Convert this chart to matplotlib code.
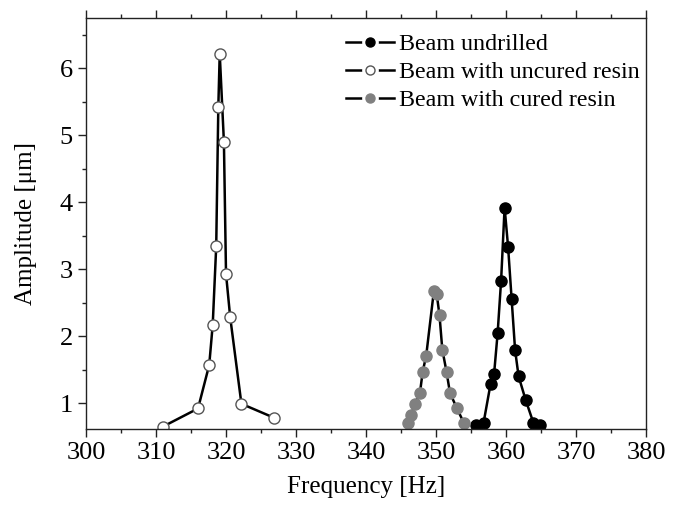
import numpy as np
import matplotlib
matplotlib.use("Agg")
import matplotlib.pyplot as plt
from matplotlib.ticker import MultipleLocator
from matplotlib.lines import Line2D
from matplotlib.legend_handler import HandlerTuple

# data
freq_undrilled = [355.7, 356.8, 357.8, 358.3, 358.8, 359.3, 359.8, 360.3, 360.8, 361.3, 361.8, 362.8, 363.9, 364.9]
amp_undrilled = [0.67, 0.71, 1.29, 1.44, 2.04, 2.83, 3.92, 3.33, 2.56, 1.79, 1.40, 1.05, 0.71, 0.67]

freq_uncured = [311.0, 316.0, 317.6, 318.1, 318.6, 318.9, 319.1, 319.7, 320.0, 320.6, 322.2, 326.9]
amp_uncured = [0.65, 0.92, 1.57, 2.17, 3.34, 5.42, 6.22, 4.90, 2.93, 2.28, 0.99, 0.78]

freq_cured = [346.0, 346.4, 347.0, 347.7, 348.1, 348.6, 349.7, 350.1, 350.5, 350.9, 351.5, 352.0, 353.0, 354.0]
amp_cured = [0.70, 0.82, 0.98, 1.15, 1.47, 1.71, 2.68, 2.63, 2.31, 1.80, 1.47, 1.15, 0.92, 0.70]

labels = ["Beam undrilled", "Beam with uncured resin", "Beam with cured resin"]

plt.rcParams['font.family'] = ['Liberation Serif', 'DejaVu Serif']

fig = plt.figure(figsize=(6.8, 5.08), dpi=100)
ax = fig.add_axes([0.1265, 0.155, 0.8235, 0.8095])

styles = [
    dict(mfc='black', mec='black', mew=1.0),
    dict(mfc='white', mec='#555555', mew=1.0),
    dict(mfc='#808080', mec='#808080', mew=1.0),
]

ax.plot(freq_undrilled, amp_undrilled, '-o', color='black', lw=1.8, ms=8, **styles[0])
ax.plot(freq_uncured, amp_uncured, '-o', color='black', lw=1.8, ms=8, **styles[1])
ax.plot(freq_cured, amp_cured, '-o', color='black', lw=1.8, ms=8, **styles[2])

ax.set_xlim(300, 380)
ax.set_ylim(0.61, 6.75)
ax.xaxis.set_major_locator(MultipleLocator(10))
ax.xaxis.set_minor_locator(MultipleLocator(5))
ax.yaxis.set_major_locator(MultipleLocator(1))
ax.yaxis.set_minor_locator(MultipleLocator(0.5))
ax.tick_params(which='both', direction='out', top=True, right=False,
               labelsize=19, width=1.0, colors='#222222', labelcolor='black')
ax.tick_params(which='major', length=6)
ax.tick_params(which='minor', length=3)
for s in ax.spines.values():
    s.set_linewidth(1.0)
    s.set_color('#222222')

ax.set_xlabel("Frequency [Hz]", fontsize=18, labelpad=8)
ax.set_ylabel("Amplitude [μm]", fontsize=18, labelpad=16)

# legend handles: line with a small white gap around the marker
handles = []
for st in styles:
    back = Line2D([], [], color='black', lw=1.8, marker='o', ms=11,
                  mfc='white', mec='white')
    front = Line2D([], [], ls='none', marker='o', ms=6.5, **st)
    handles.append((back, front))

ax.legend(handles, labels, handler_map={tuple: HandlerTuple(ndivide=1)},
          loc='upper right', frameon=False, fontsize=17.3, handlelength=2.0,
          handletextpad=0.2, labelspacing=0.25, borderaxespad=0, borderpad=0,
          bbox_to_anchor=(0.988, 0.962))

fig.savefig("out.png", dpi=100)
